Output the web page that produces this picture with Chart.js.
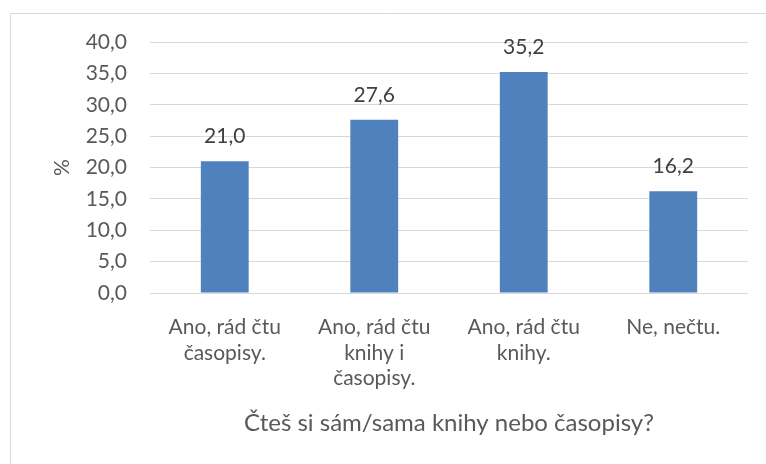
<!DOCTYPE html>
<html>
<head>
<meta charset="utf-8">
<script src="https://cdn.jsdelivr.net/npm/chart.js@4"></script>
<style>
  html, body { margin: 0; padding: 0; background: #fff; }
  #wrap { width: 766px; height: 464px; position: relative; }
</style>
</head>
<body>
<div id="wrap"><canvas id="chart"></canvas></div>
<script>
// data
const categories = [
  ['Ano, rád čtu', 'časopisy.'],
  ['Ano, rád čtu', 'knihy i', 'časopisy.'],
  ['Ano, rád čtu', 'knihy.'],
  ['Ne, nečtu.']
];
const values = [21.0, 27.6, 35.2, 16.2];
const yTicks = [0, 5, 10, 15, 20, 25, 30, 35, 40];
const xTitle = 'Čteš si sám/sama knihy nebo časopisy?';
const yTitle = '%';

const FONT = 'Lato, "Open Sans", sans-serif';
const fmt = v => v.toFixed(1).replace('.', ',');

// light frame like the office chart area (left + top edges visible)
const framePlugin = {
  id: 'frame',
  beforeDraw(chart) {
    const ctx = chart.ctx;
    ctx.save();
    ctx.strokeStyle = '#d9d9d9';
    ctx.lineWidth = 1;
    ctx.beginPath();
    ctx.moveTo(10.5, chart.height);
    ctx.lineTo(10.5, 13.5);
    ctx.lineTo(chart.width, 13.5);
    ctx.stroke();
    ctx.restore();
  }
};

// value labels above bars
const labelPlugin = {
  id: 'valueLabels',
  afterDatasetsDraw(chart) {
    const ctx = chart.ctx;
    const meta = chart.getDatasetMeta(0);
    ctx.save();
    ctx.font = '21px ' + FONT;
    ctx.fillStyle = '#404040';
    ctx.textAlign = 'center';
    ctx.textBaseline = 'middle';
    meta.data.forEach((bar, i) => {
      ctx.fillText(fmt(values[i]), bar.x, bar.y - 25);
    });
    ctx.restore();
  }
};

new Chart(document.getElementById('chart'), {
  type: 'bar',
  data: {
    labels: categories,
    datasets: [{
      data: values,
      backgroundColor: '#4f81bd',
      borderWidth: 0,
      barPercentage: 0.32,
      categoryPercentage: 1
    }]
  },
  options: {
    responsive: true,
    maintainAspectRatio: false,
    animation: false,
    layout: { padding: { top: 42, right: 18, left: 40, bottom: 0 } },
    plugins: {
      legend: { display: false },
      tooltip: { enabled: false }
    },
    scales: {
      x: {
        grid: { display: false },
        border: { display: false },
        ticks: {
          color: '#595959',
          font: { family: FONT, size: 21, lineHeight: 1.2 },
          padding: 14,
          maxRotation: 0,
          autoSkip: false
        },
        title: {
          display: true,
          text: xTitle,
          color: '#595959',
          font: { family: FONT, size: 24, lineHeight: 1.2 },
          padding: { top: 0, bottom: 26 }
        },
        afterFit(scale) { scale.height = 171; }
      },
      y: {
        min: 0,
        max: 40,
        afterBuildTicks(scale) { scale.ticks = yTicks.map(v => ({ value: v })); },
        grid: { color: '#d9d9d9', drawTicks: false, lineWidth: 1 },
        border: { display: false },
        ticks: {
          color: '#595959',
          font: { family: FONT, size: 21 },
          padding: 23,
          callback: v => fmt(v)
        },
        title: {
          display: true,
          text: yTitle,
          color: '#595959',
          font: { family: FONT, size: 21, lineHeight: 1.2 },
          padding: { top: 10, bottom: 0 }
        },
        afterFit(scale) { scale.width = 110; }
      }
    }
  },
  plugins: [framePlugin, labelPlugin]
});
</script>
</body>
</html>
